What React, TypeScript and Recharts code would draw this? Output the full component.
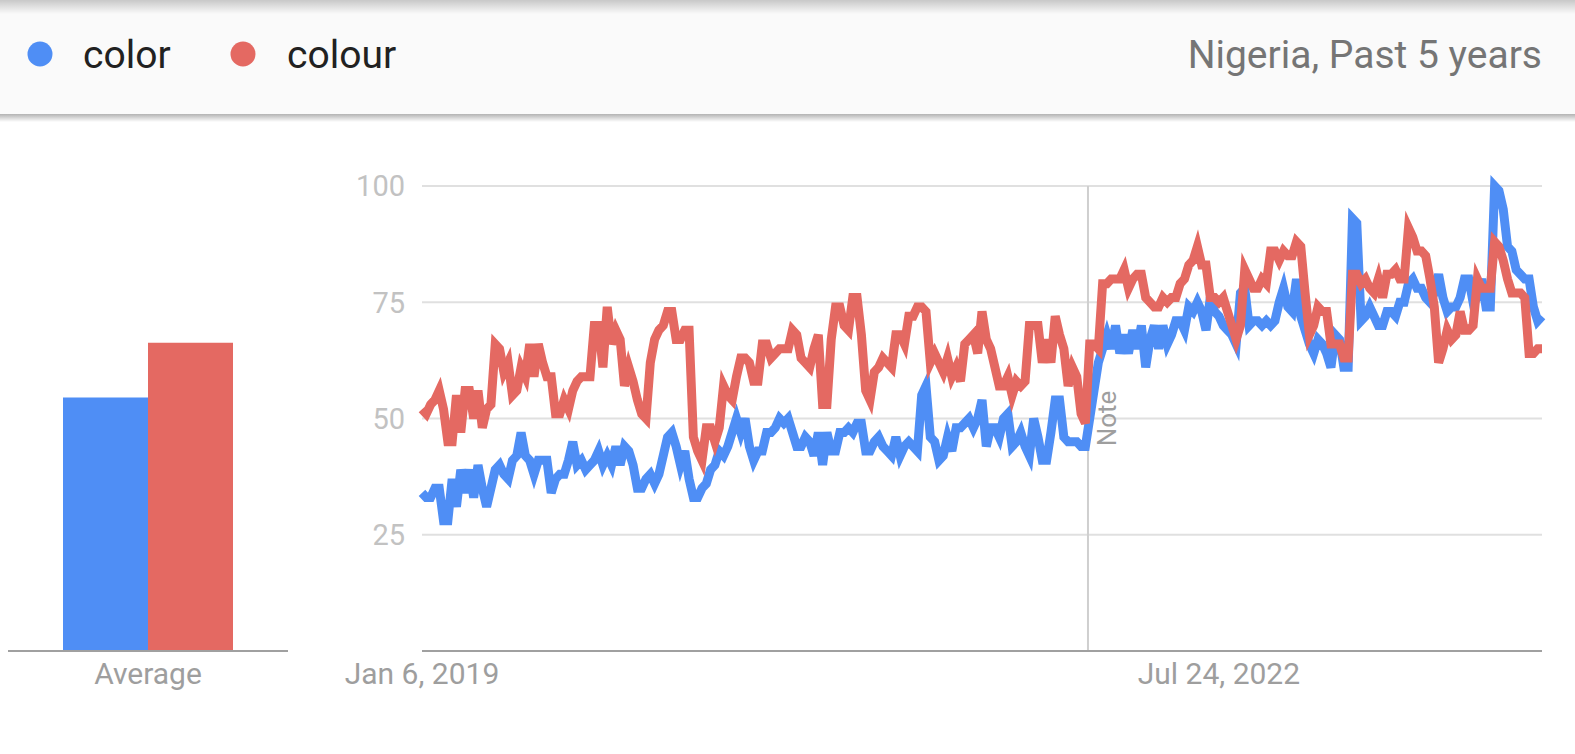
import React from 'react';
import { LineChart, Line, XAxis, YAxis, CartesianGrid, ReferenceLine, BarChart, Bar } from 'recharts';

// weekly interest, Jan 6 2019 .. end of 2023 (261 weeks)
const colorSeries = [
  34, 33, 33, 35, 35, 28, 28, 37, 31, 39, 34, 39, 33, 40, 35, 31, 35, 39, 40, 38, 37, 41, 42, 47, 42, 41, 38, 41, 41, 41, 34, 37, 38,
  38, 41, 45, 40, 41, 39, 40, 41, 43, 40, 42, 40, 44, 40, 44, 43, 40, 35, 35, 37, 38, 36, 38, 42, 46, 47, 44, 40, 43, 37, 33, 33,
  35, 36, 39, 40, 43, 42, 44, 47, 50, 47, 50, 44, 41, 43, 43, 47, 47, 48, 50, 49, 50, 47, 44, 44, 46, 45, 42, 47, 40, 47, 43, 43, 47,
  47, 48, 47, 49, 49, 43, 43, 45, 46, 44, 43, 42, 46, 42, 44, 45, 44, 43, 55, 57, 46, 45, 41, 42, 46, 43, 48, 48, 49, 50, 48, 50, 54,
  44, 48, 48, 46, 50, 51, 44, 45, 47, 44, 42, 50, 46, 41, 41, 47, 54, 54, 46, 45, 45, 45, 44, 44, 50, 56, 62, 65, 68, 65, 70, 64,
  68, 64, 69, 65, 70, 61, 67, 70, 65, 70, 66, 68, 71, 71, 69, 74, 73, 75, 73, 69, 76, 73, 72, 70, 69,
  68, 66, 77, 78, 70, 71, 71, 70, 71, 70, 71, 75, 78, 74, 73, 80, 72, 69, 66, 64, 67, 66, 64, 61, 68, 67, 61, 61, 93, 92, 71, 72,
  74, 72, 70, 70, 73, 73, 72, 75, 75, 79, 80, 78, 78, 76, 75, 77, 81, 76, 73, 74, 74, 76, 80, 80, 75, 76, 80, 74, 74, 100, 99, 95, 87, 86, 82, 81, 80, 80, 74, 71, 72,
];

const colourSeries = [
  52, 51, 53, 54, 56, 52, 45, 45, 55, 47, 56, 56, 50, 56, 48, 52, 53, 66, 65, 60, 62, 55, 56, 61, 59, 66, 59, 66, 62, 59, 59, 51, 51,
  54, 52, 56, 58, 59, 59, 59, 70, 70, 61, 74, 66, 69, 67, 57, 61, 58, 54, 51, 50, 62, 67, 69, 70, 73, 73, 67, 67, 69, 69, 46, 43,
  41, 48, 48, 45, 48, 57, 55, 54, 59, 63, 63, 62, 58, 58, 66, 66, 63, 64, 65, 65, 65, 69, 68, 63, 62, 61, 65, 68, 53, 53, 67, 74, 74,
  70, 69, 76, 76, 68, 56, 54, 60, 61, 63, 62, 61, 68, 68, 66, 72, 72, 74, 74, 73, 62, 64, 62, 60, 63, 59, 61, 58, 66, 67, 68, 64, 73,
  67, 65, 61, 57, 57, 59, 55, 58, 57, 58, 70, 70, 70, 62, 67, 62, 72, 68, 65, 57, 61, 59, 51, 49, 66, 66, 65, 79, 79, 80, 80, 80,
  82, 78, 80, 81, 81, 76, 75, 74, 74, 76, 75, 76, 76, 79, 80, 83, 84, 87, 83, 83, 76, 76, 75, 76, 73,
  70, 67, 70, 82, 80, 78, 78, 80, 79, 86, 86, 84, 86, 85, 85, 88, 87, 77, 68, 70, 74, 73, 73, 66, 66, 66, 63, 63, 81, 81, 79, 80,
  78, 77, 80, 76, 81, 81, 82, 80, 80, 91, 89, 86, 86, 85, 80, 74, 62, 65, 69, 67, 68, 73, 69, 69, 70, 80, 78, 78, 78, 88, 87, 84, 80, 77, 77, 77, 76, 64, 64, 65, 65,
];

const seriesNames = ['color', 'colour'];
const averageCategories = ['Average'];
const averageColor = [54.5];
const averageColour = [66.3];
const yTicks = [25, 50, 75, 100];
const xTickIndex = [0, 185];
const xTickLabels = ['Jan 6, 2019', 'Jul 24, 2022'];
const noteIndex = 154.6;
const noteText = 'Note';
const headerRight = 'Nigeria, Past 5 years';

const BLUE = '#4f8ef5';
const RED = '#e46962';
const FONT = 'Roboto, "Noto Sans", Arial, sans-serif';

const lineData = colorSeries.map((v, i) => ({ i, color: v, colour: colourSeries[i] }));
const barData = averageCategories.map((name, k) => ({ name, color: averageColor[k], colour: averageColour[k] }));

const NoteLabel = (props: any) => {
  const vb = props.viewBox || { x: 0, y: 0, width: 0, height: 0 };
  const cx = vb.x + 28;
  const cy = vb.y + (vb.height || 0) / 2;
  return (
    <text
      x={cx}
      y={cy}
      transform={`rotate(-90, ${cx}, ${cy})`}
      textAnchor="middle"
      fill="#9e9e9e"
      fontSize={26}
      fontFamily={FONT}
    >
      {noteText}
    </text>
  );
};

export default function App() {
  return (
    <div style={{ position: 'absolute', left: 0, top: 0, width: 1575, height: 754, background: '#ffffff', overflow: 'hidden', fontFamily: FONT }}>
      <svg width={1575} height={130} style={{ position: 'absolute', left: 0, top: 0 }}>
        <defs>
          <linearGradient id="topShade" x1="0" y1="0" x2="0" y2="1">
            <stop offset="0" stopColor="#000" stopOpacity={0.2} />
            <stop offset="1" stopColor="#000" stopOpacity={0} />
          </linearGradient>
          <linearGradient id="botShade" x1="0" y1="0" x2="0" y2="1">
            <stop offset="0" stopColor="#000" stopOpacity={0.3} />
            <stop offset="1" stopColor="#000" stopOpacity={0} />
          </linearGradient>
        </defs>
        <rect x={0} y={0} width={1575} height={114} fill="#fafafa" />
        <rect x={0} y={0} width={1575} height={14} fill="url(#topShade)" />
        <rect x={0} y={114} width={1575} height={8} fill="url(#botShade)" />
        <circle cx={40} cy={54} r={12.5} fill={BLUE} />
        <text x={83} y={68} fontSize={39} fill="#212121" fontFamily={FONT}>{seriesNames[0]}</text>
        <circle cx={243} cy={54} r={12.5} fill={RED} />
        <text x={287} y={68} fontSize={39} fill="#212121" fontFamily={FONT}>{seriesNames[1]}</text>
        <text x={1542} y={68} fontSize={39} fill="#757575" textAnchor="end" fontFamily={FONT}>{headerRight}</text>
      </svg>

      <div style={{ position: 'absolute', left: 0, top: 0 }}>
        <LineChart width={1575} height={754} data={lineData} margin={{ top: 186, right: 33, bottom: 63, left: 0 }}>
          <CartesianGrid vertical={false} stroke="#e0e0e0" strokeWidth={2} />
          <YAxis
            width={422}
            domain={[0, 100]}
            ticks={yTicks}
            axisLine={false}
            tickLine={false}
            tickSize={0}
            tickMargin={17}
            tick={{ fill: '#c2c2c2', fontSize: 29, fontFamily: FONT }}
          />
          <XAxis
            dataKey="i"
            type="number"
            domain={[0, colorSeries.length - 1]}
            ticks={xTickIndex}
            interval={0}
            tickFormatter={(v: number) => xTickLabels[xTickIndex.indexOf(v)]}
            axisLine={{ stroke: '#a0a0a0', strokeWidth: 2 }}
            tickLine={false}
            tickSize={0}
            tickMargin={12}
            height={40}
            tick={{ fill: '#9e9e9e', fontSize: 30, fontFamily: FONT }}
          />
          <ReferenceLine x={noteIndex} stroke="#cfcfcf" strokeWidth={2} label={NoteLabel} />
          <Line type="linear" dataKey="color" stroke={BLUE} strokeWidth={9} dot={false} isAnimationActive={false} />
          <Line type="linear" dataKey="colour" stroke={RED} strokeWidth={9} dot={false} isAnimationActive={false} />
        </LineChart>
      </div>

      <div style={{ position: 'absolute', left: 0, top: 0 }}>
        <BarChart width={300} height={754} data={barData} margin={{ top: 186, right: 12, bottom: 63, left: 8 }} barCategoryGap={55} barGap={0}>
          <YAxis hide domain={[0, 100]} />
          <XAxis
            dataKey="name"
            axisLine={{ stroke: '#a0a0a0', strokeWidth: 2 }}
            tickLine={false}
            tickSize={0}
            tickMargin={12}
            height={40}
            tick={{ fill: '#9e9e9e', fontSize: 30, fontFamily: FONT }}
          />
          <Bar dataKey="color" fill={BLUE} isAnimationActive={false} />
          <Bar dataKey="colour" fill={RED} isAnimationActive={false} />
        </BarChart>
      </div>
    </div>
  );
}
